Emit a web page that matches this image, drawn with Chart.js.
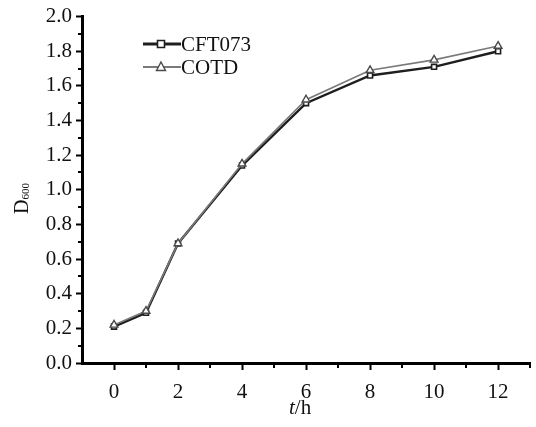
<!DOCTYPE html>
<html>
<head>
<meta charset="utf-8">
<script src="https://cdn.jsdelivr.net/npm/chart.js@4/dist/chart.umd.min.js"></script>
<style>
  html, body { margin: 0; padding: 0; background: #fff; }
  #wrap { width: 536px; height: 427px; }
</style>
</head>
<body>
<div id="wrap"><canvas id="growth" width="536" height="427"></canvas></div>
<script>
const hours = [0, 1, 2, 4, 6, 8, 10, 12];
const cft073 = [0.21, 0.29, 0.69, 1.14, 1.50, 1.66, 1.71, 1.80];
const cotd = [0.22, 0.30, 0.69, 1.15, 1.52, 1.69, 1.75, 1.83];
const xMajor = [0, 2, 4, 6, 8, 10, 12];
const xMinor = [1, 3, 5, 7, 9, 11, 13];
const yMinor = [0.1, 0.3, 0.5, 0.7, 0.9, 1.1, 1.3, 1.5, 1.7, 1.9];
const seriesNames = ['CFT073', 'COTD'];

const SERIF = "'Liberation Serif', 'Times New Roman', serif";
const DARK = '#1e1e1e';
const GREY = '#7a7a7a';

function toPoints(ys) {
  return hours.map((h, i) => ({ x: h, y: ys[i] }));
}

// minor ticks, legend and the two axis titles (subscript / italic parts)
const extras = {
  id: 'extras',
  afterDraw(chart) {
    const ctx = chart.ctx;
    const xs = chart.scales.x;
    const ys = chart.scales.y;
    const area = chart.chartArea;
    ctx.save();
    ctx.strokeStyle = '#000';
    ctx.lineWidth = 2;
    yMinor.forEach(v => {
      const py = Math.round(ys.getPixelForValue(v));
      ctx.beginPath();
      ctx.moveTo(area.left - 4, py);
      ctx.lineTo(area.left, py);
      ctx.stroke();
    });
    xMinor.forEach(v => {
      const px = Math.round(xs.getPixelForValue(v));
      ctx.beginPath();
      ctx.moveTo(px, area.bottom);
      ctx.lineTo(px, area.bottom + 5);
      ctx.stroke();
    });

    // legend
    const rows = [
      { ds: chart.data.datasets[0], y: 44 },
      { ds: chart.data.datasets[1], y: 67 }
    ];
    rows.forEach(r => {
      const ds = r.ds;
      ctx.strokeStyle = ds.borderColor;
      ctx.lineWidth = ds.borderWidth + 0.4;
      ctx.beginPath();
      ctx.moveTo(143, r.y);
      ctx.lineTo(181, r.y);
      ctx.stroke();
      ctx.fillStyle = ds.pointBackgroundColor;
      ctx.strokeStyle = ds.pointBorderColor;
      ctx.lineWidth = ds.pointBorderWidth;
      ctx.beginPath();
      if (ds.pointStyle === 'rect') {
        ctx.rect(161 - 3.5, r.y - 3.5, 7, 7);
      } else {
        ctx.moveTo(161, r.y - 5);
        ctx.lineTo(165.5, r.y + 3.5);
        ctx.lineTo(156.5, r.y + 3.5);
        ctx.closePath();
      }
      ctx.fill();
      ctx.stroke();
      ctx.fillStyle = '#111';
      ctx.font = '21px ' + SERIF;
      ctx.textBaseline = 'middle';
      ctx.textAlign = 'left';
      ctx.fillText(ds.label, 181, r.y + 1);
    });

    // y title D600
    ctx.save();
    ctx.translate(28, 214);
    ctx.rotate(-Math.PI / 2);
    ctx.fillStyle = '#111';
    ctx.textBaseline = 'alphabetic';
    ctx.textAlign = 'left';
    ctx.font = '20px ' + SERIF;
    ctx.fillText('D', 0, 0);
    const dw = ctx.measureText('D').width;
    ctx.font = '11px ' + SERIF;
    ctx.fillText('600', dw, 1);
    ctx.restore();

    // x title t/h
    ctx.fillStyle = '#111';
    ctx.textBaseline = 'alphabetic';
    ctx.textAlign = 'left';
    ctx.font = 'italic 21px ' + SERIF;
    ctx.fillText('t', 289, 414);
    const tw = ctx.measureText('t').width;
    ctx.font = '21px ' + SERIF;
    ctx.fillText('/h', 289 + tw, 414);
    ctx.restore();
  }
};

new Chart(document.getElementById('growth'), {
  type: 'line',
  data: {
    datasets: [
      {
        label: seriesNames[0],
        data: toPoints(cft073),
        borderColor: DARK,
        borderWidth: 2.4,
        pointStyle: 'rect',
        pointRadius: 3.5,
        pointBorderWidth: 1.6,
        pointBorderColor: DARK,
        pointBackgroundColor: '#fff',
        tension: 0,
        order: 2
      },
      {
        label: seriesNames[1],
        data: toPoints(cotd),
        borderColor: GREY,
        borderWidth: 1.6,
        pointStyle: 'triangle',
        pointRadius: 4.5,
        pointBorderWidth: 1.4,
        pointBorderColor: '#4a4a4a',
        pointBackgroundColor: '#fff',
        tension: 0,
        order: 1
      }
    ]
  },
  options: {
    responsive: false,
    animation: false,
    devicePixelRatio: 1,
    layout: { padding: { top: 14, right: 0, left: 0, bottom: 0 } },
    plugins: {
      legend: { display: false },
      tooltip: { enabled: false },
      title: { display: false }
    },
    scales: {
      x: {
        type: 'linear',
        min: -1,
        max: 13,
        afterBuildTicks(scale) {
          scale.ticks = xMajor.map(v => ({ value: v }));
        },
        afterFit(scale) { scale.height = 64; },
        border: { display: true, color: '#000', width: 3 },
        grid: {
          drawOnChartArea: false,
          drawTicks: true,
          tickLength: 7,
          tickWidth: 2,
          tickColor: '#000'
        },
        ticks: {
          color: '#111',
          font: { family: SERIF, size: 21 },
          padding: 10,
          maxRotation: 0,
          callback: v => String(v)
        }
      },
      y: {
        type: 'linear',
        min: 0,
        max: 2.0,
        afterFit(scale) { scale.width = 82; },
        border: { display: true, color: '#000', width: 3 },
        grid: {
          drawOnChartArea: false,
          drawTicks: true,
          tickLength: 6,
          tickWidth: 2,
          tickColor: '#000'
        },
        ticks: {
          stepSize: 0.2,
          color: '#111',
          font: { family: SERIF, size: 21 },
          padding: 4,
          callback: v => Number(v).toFixed(1)
        }
      }
    }
  },
  plugins: [extras]
});
</script>
</body>
</html>
